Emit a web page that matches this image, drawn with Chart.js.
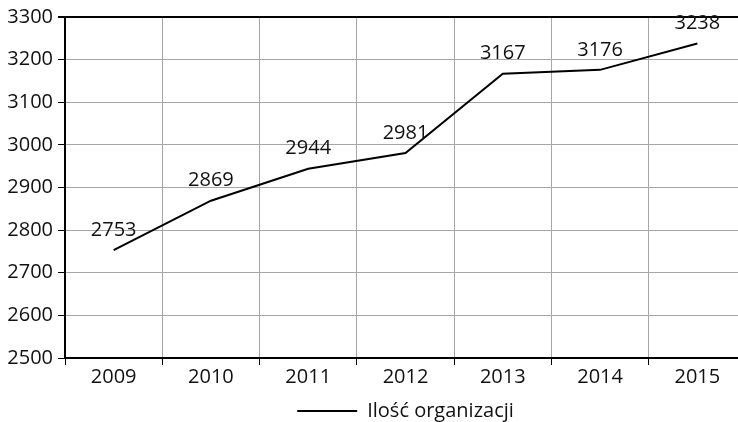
<!DOCTYPE html>
<html>
<head>
<meta charset="utf-8">
<script src="https://cdn.jsdelivr.net/npm/chart.js@4/dist/chart.umd.min.js"></script>
<style>
html,body{margin:0;padding:0;overflow:hidden;background:#fff;}
#wrap{width:746px;height:431px;position:relative;}
</style>
</head>
<body>
<div id="wrap"><canvas id="c"></canvas></div>
<script>
const years = ['2009','2010','2011','2012','2013','2014','2015'];
const organizations = [2753, 2869, 2944, 2981, 3167, 3176, 3238];
const yTicks = [2500, 2600, 2700, 2800, 2900, 3000, 3100, 3200, 3300];
const seriesName = 'Ilość organizacji';

const FONT = '"Open Sans", sans-serif';

const valueLabels = {
  id: 'valueLabels',
  afterDatasetsDraw(chart) {
    const ctx = chart.ctx;
    const meta = chart.getDatasetMeta(0);
    ctx.save();
    ctx.font = '20px ' + FONT;
    ctx.fillStyle = '#111';
    ctx.textAlign = 'center';
    ctx.textBaseline = 'middle';
    meta.data.forEach((pt, i) => {
      ctx.fillText(String(organizations[i]), pt.x, pt.y - 20);
    });
    ctx.restore();
  }
};

new Chart(document.getElementById('c'), {
  type: 'line',
  data: {
    labels: years,
    datasets: [{
      label: seriesName,
      data: organizations,
      borderColor: '#000',
      backgroundColor: '#000',
      borderWidth: 2,
      pointRadius: 0,
      tension: 0,
      fill: false
    }]
  },
  options: {
    responsive: true,
    maintainAspectRatio: false,
    animation: false,
    devicePixelRatio: 1,
    layout: { padding: { top: 16, right: 0, bottom: 0, left: 0 } },
    plugins: {
      tooltip: { enabled: false },
      legend: {
        position: 'bottom',
        fullSize: false,
        labels: {
          boxWidth: 60,
          boxHeight: 0,
          padding: 4,
          color: '#111',
          font: { family: FONT, size: 20 }
        }
      }
    },
    scales: {
      x: {
        offset: true,
        grid: {
          offset: true,
          color: '#a6a6a6',
          lineWidth: 1,
          tickColor: '#000',
          tickLength: 7,
          drawTicks: true
        },
        border: { color: '#000', width: 2 },
        ticks: {
          color: '#111',
          padding: 0,
          font: { family: FONT, size: 20 },
          maxRotation: 0
        },
        afterFit(s) { s.height = 39; }
      },
      y: {
        min: 2500,
        max: 3300,
        afterBuildTicks(s) { s.ticks = yTicks.map(v => ({ value: v })); },
        grid: {
          color: c => (c.tick && c.tick.value === 3300) ? '#000' : '#a6a6a6',
          lineWidth: c => (c.tick && c.tick.value === 3300) ? 2 : 1,
          tickColor: '#000',
          tickLength: 7
        },
        border: { color: '#000', width: 2 },
        ticks: {
          color: '#111',
          padding: 5,
          font: { family: FONT, size: 20 },
          callback: v => String(v)
        },
        afterFit(s) { s.width = 65; }
      }
    }
  },
  plugins: [valueLabels]
});
</script>
</body>
</html>
